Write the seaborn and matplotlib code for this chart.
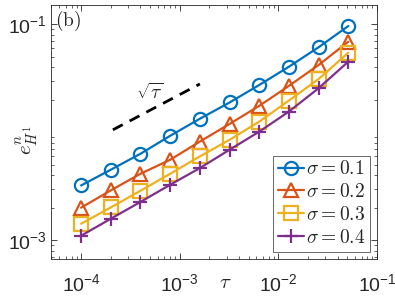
import numpy as np
import pandas as pd
import matplotlib
matplotlib.use("Agg")
import matplotlib.pyplot as plt
import seaborn as sns

tau = [1e-4, 2e-4, 4e-4, 8e-4, 1.6e-3, 3.2e-3, 6.4e-3, 1.28e-2, 2.56e-2, 5.12e-2]
err_s01 = [3.21e-3, 4.49e-3, 6.31e-3, 9.25e-3, 1.33e-2, 1.88e-2, 2.73e-2, 4.03e-2, 6.10e-2, 9.59e-2]
err_s02 = [2.00e-3, 2.89e-3, 4.12e-3, 5.55e-3, 8.18e-3, 1.19e-2, 1.75e-2, 2.68e-2, 4.18e-2, 6.87e-2]
err_s03 = [1.42e-3, 2.01e-3, 2.87e-3, 4.12e-3, 5.96e-3, 8.49e-3, 1.25e-2, 1.96e-2, 3.10e-2, 5.43e-2]
err_s04 = [1.10e-3, 1.58e-3, 2.26e-3, 3.26e-3, 4.65e-3, 6.87e-3, 1.01e-2, 1.55e-2, 2.55e-2, 4.49e-2]
labels = [r"$\sigma = 0.1$", r"$\sigma = 0.2$", r"$\sigma = 0.3$", r"$\sigma = 0.4$"]
ref_x = [2.1e-4, 1.6e-3]
ref_y = [1.05e-2, 2.79e-2]

sns.set_style("ticks")
plt.rcParams["font.family"] = ["Liberation Sans", "DejaVu Sans"]
plt.rcParams["mathtext.fontset"] = "cm"

rows = []
for lab, ys in zip(labels, [err_s01, err_s02, err_s03, err_s04]):
    for x, y in zip(tau, ys):
        rows.append({"tau": x, "err": y, "sigma": lab})
df = pd.DataFrame(rows)

colors = ["#0072BD", "#D95319", "#EDB120", "#7E2F8E"]
markers = ["o", "^", "s", "+"]

fig = plt.figure(figsize=(3.95, 2.96), dpi=100)
ax = fig.add_axes([51/395, 1-259/296, 326/395, 254/296])

for lab, c, m in zip(labels, colors, markers):
    sub = df[df["sigma"] == lab]
    sns.lineplot(data=sub, x="tau", y="err", ax=ax, color=c, marker=m,
                 markersize=9.5, markerfacecolor="none", markeredgecolor=c,
                 markeredgewidth=1.6, linewidth=1.6, label=lab)

ax.plot(ref_x, ref_y, color="k", linestyle="--", linewidth=2.0, dashes=(4, 2.8))
ax.text(5.0e-4, 2.3e-2, r"$\sqrt{\tau}$", fontsize=14, ha="center", va="center")

ax.set_xscale("log")
ax.set_yscale("log")
ax.set_xlim(4.95e-5, 0.1)
ax.set_ylim(6.7e-4, 0.15)
ax.set_xticks([1e-4, 1e-3, 1e-2, 1e-1])
ax.set_yticks([1e-3, 1e-1])
ax.tick_params(which="both", direction="in", top=True, right=True, labelsize=14, colors="#262626")
ax.tick_params(axis="x", which="major", pad=10)
ax.tick_params(axis="y", which="major", pad=3)
ax.tick_params(which="major", length=4, width=0.6)
ax.tick_params(which="minor", length=2, width=0.5)
for s in ax.spines.values():
    s.set_color("#262626")
    s.set_linewidth(0.6)

ax.set_xlabel("")
ax.set_ylabel("")
fig.text(225/395, 1-282/296, r"$\tau$", fontsize=15, ha="center", va="center")
fig.text(27/395, 1-140/296, r"$e^n_{H^1}$", fontsize=15, ha="center", va="center", rotation=90)
ax.text(0.013, 0.985, r"$\mathrm{(b)}$", transform=ax.transAxes, fontsize=14, ha="left", va="top")

leg = ax.legend(loc="lower right", bbox_to_anchor=(0.98, 0.028), fontsize=14,
                frameon=True, fancybox=False, edgecolor="#262626", borderpad=0.25,
                labelspacing=0.25, handlelength=1.35, handletextpad=0.12, borderaxespad=0)
leg.get_frame().set_linewidth(0.6)

fig.savefig("out.png", dpi=100)
